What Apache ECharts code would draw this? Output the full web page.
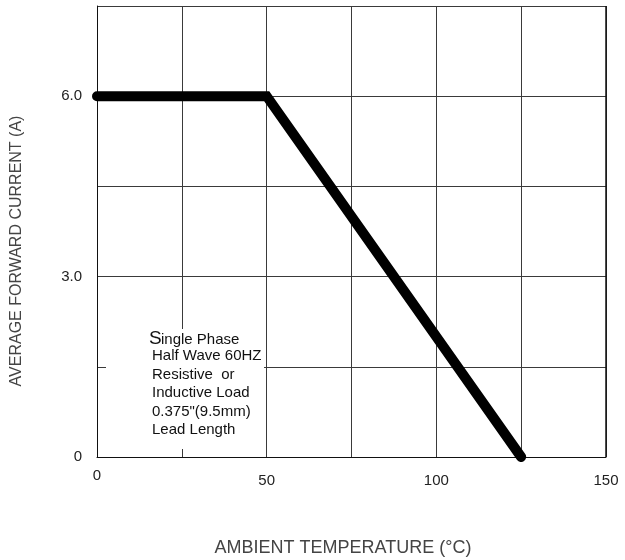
<!DOCTYPE html>
<html>
<head>
<meta charset="utf-8">
<script src="https://cdn.jsdelivr.net/npm/echarts@6/dist/echarts.min.js"></script>
<style>
  html, body { margin: 0; padding: 0; background: #fff; }
  #chart { width: 625px; height: 560px; }
</style>
</head>
<body>
<div id="chart"></div>
<script>
// derating curve: temperature (°C) vs current (A)
var temps = [0, 50, 125];
var current = [6.0, 6.0, 0];
var xTicks = [0, 50, 100, 150];
var yTicks = ["0", "3.0", "6.0"];
var noteLines = ["Half Wave 60HZ", "Resistive  or", "Inductive Load", "0.375\"(9.5mm)", "Lead Length"];

var chart = echarts.init(document.getElementById("chart"));

var gridColor = "#3a3a3a";
var font = "Liberation Sans";

chart.setOption({
  animation: false,
  grid: { left: 97, right: 19, top: 6, bottom: 103 },
  xAxis: {
    type: "value",
    min: 0,
    max: 150,
    interval: 25,
    axisLine: { lineStyle: { color: "#111", width: 1 } },
    axisTick: { show: false },
    splitLine: { show: true, lineStyle: { color: gridColor, width: 1 } },
    axisLabel: {
      margin: 11,
      color: "#222",
      fontSize: 15,
      fontFamily: font,
      formatter: function (v) {
        if (xTicks.indexOf(v) < 0) return "";
        return v === 0 ? "{z|0}" : "{n|" + v + "}";
      },
      rich: {
        z: { fontSize: 15, color: "#222", fontFamily: font },
        n: { fontSize: 15, color: "#222", fontFamily: font, padding: [5, 0, 0, 0] }
      }
    }
  },
  yAxis: {
    type: "value",
    min: 0,
    max: 7.5,
    interval: 1.5,
    axisLine: { show: true, lineStyle: { color: "#111", width: 1 } },
    axisTick: { show: false },
    splitLine: { show: true, lineStyle: { color: gridColor, width: 1 } },
    axisLabel: {
      margin: 15,
      color: "#222",
      fontSize: 15,
      fontFamily: font,
      formatter: function (v) {
        var i = Math.round(v / 3);
        if (Math.abs(v - i * 3) > 1e-6) return "";
        return yTicks[i] || "";
      }
    }
  },
  graphic: [
    // right border of the plot
    {
      type: "rect", z: 1,
      shape: { x: 606, y: 6, width: 0, height: 451 },
      style: { stroke: "#111", lineWidth: 1, fill: null }
    },
    // note box covering the grid
    {
      type: "rect", z: 5,
      shape: { x: 106, y: 329, width: 158, height: 120 },
      style: { fill: "#fff" }
    },
    {
      type: "text", z: 6, x: 149, y: 348,
      style: { text: "S", fontSize: 19, fontFamily: font, fill: "#111", verticalAlign: "bottom" }
    },
    {
      type: "text", z: 6, x: 161, y: 347,
      style: { text: "ingle Phase", fontSize: 15, fontFamily: font, fill: "#111", verticalAlign: "bottom" }
    },
    {
      type: "text", z: 6, x: 152, y: 347,
      style: {
        text: noteLines.join("\n"),
        fontSize: 15,
        lineHeight: 18.5,
        fontFamily: font,
        fill: "#111",
        verticalAlign: "top"
      }
    },
    {
      type: "text", z: 6, x: 17, y: 251,
      rotation: Math.PI / 2,
      style: {
        text: "AVERAGE FORWARD CURRENT (A)",
        fontSize: 16,
        fontFamily: font,
        fill: "#444",
        align: "center",
        verticalAlign: "middle"
      }
    },
    {
      type: "text", z: 6, x: 343, y: 548,
      style: {
        text: "AMBIENT TEMPERATURE (°C)",
        fontSize: 18,
        fontFamily: font,
        fill: "#444",
        align: "center",
        verticalAlign: "middle"
      }
    }
  ],
  series: [
    {
      type: "line",
      data: temps.map(function (t, i) { return [t, current[i]]; }),
      symbol: "none",
      z: 10,
      lineStyle: { color: "#000", width: 10, cap: "round", join: "miter" }
    }
  ]
});
</script>
</body>
</html>
